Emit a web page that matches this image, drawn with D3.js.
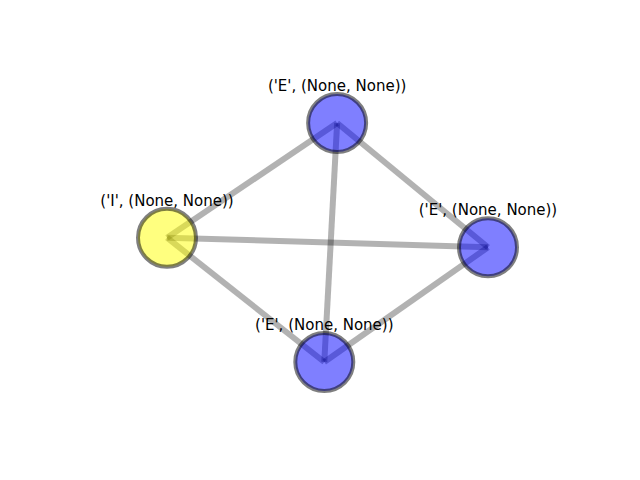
<!DOCTYPE html>
<html><head><script src="https://cdn.jsdelivr.net/npm/d3@7"></script>
<style>body{margin:0;background:#fff}</style></head>
<body><svg id="c" width="640" height="480"></svg>
<script>
const nodeLabels = ["('E', (None, None))","('I', (None, None))","('E', (None, None))","('E', (None, None))"];
const nodeColors = ["blue","yellow","blue","blue"];
const nodeX = [0.53, 0.0, 1.0, 0.49];
const nodeY = [1.0, 0.52, 0.48, 0.0];
const edges = [[0,1],[0,2],[0,3],[1,2],[1,3],[2,3]];
const svg = d3.select("#c");
const x = d3.scaleLinear().domain([0,1]).range([167,488]);
const y = d3.scaleLinear().domain([0,1]).range([362,123]);
svg.selectAll("line").data(edges).enter().append("line")
  .attr("x1",d=>x(nodeX[d[0]])).attr("y1",d=>y(nodeY[d[0]]))
  .attr("x2",d=>x(nodeX[d[1]])).attr("y2",d=>y(nodeY[d[1]]))
  .attr("stroke","#000").attr("stroke-opacity",0.3).attr("stroke-width",6);
svg.selectAll("circle").data(nodeLabels).enter().append("circle")
  .attr("cx",(d,i)=>x(nodeX[i])).attr("cy",(d,i)=>y(nodeY[i])).attr("r",29)
  .attr("fill",(d,i)=>nodeColors[i]).attr("fill-opacity",0.5)
  .attr("stroke","#000").attr("stroke-opacity",0.5).attr("stroke-width",4);
svg.selectAll("text").data(nodeLabels).enter().append("text")
  .attr("x",(d,i)=>x(nodeX[i])).attr("y",(d,i)=>y(nodeY[i])-32)
  .attr("text-anchor","middle").attr("font-family","DejaVu Sans").attr("font-size",15)
  .text(d=>d);
</script></body></html>
